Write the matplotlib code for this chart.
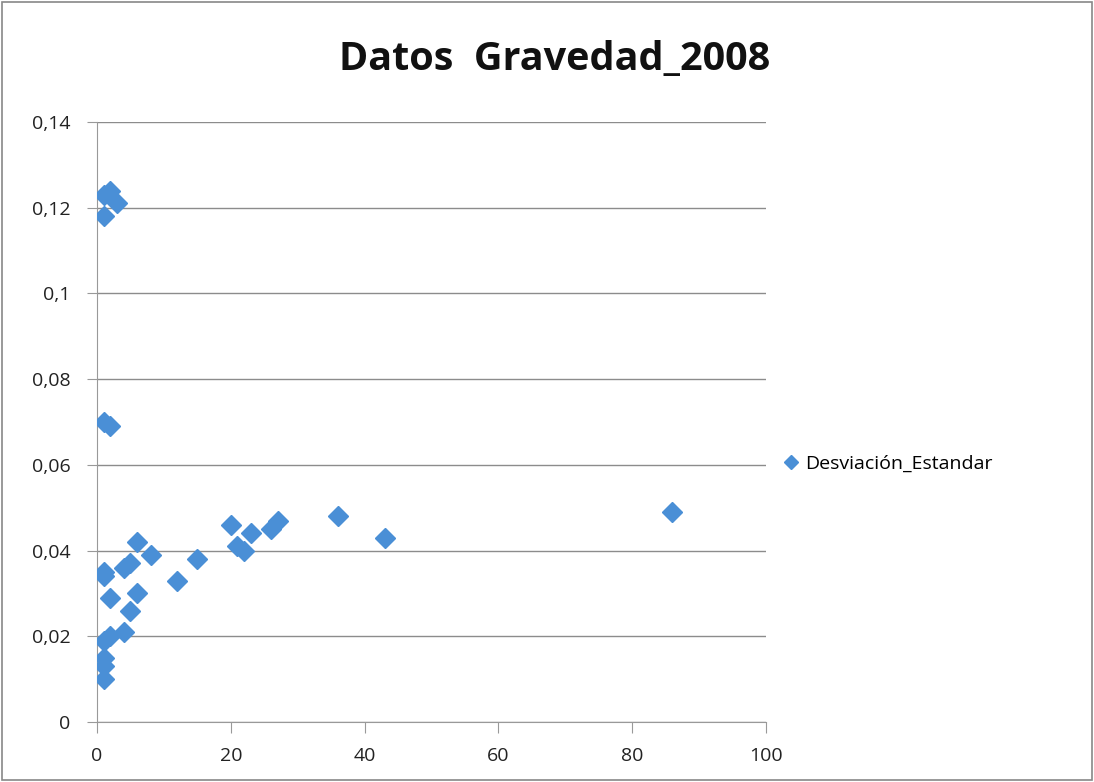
import matplotlib
matplotlib.use("Agg")
import matplotlib.pyplot as plt
from matplotlib.patches import Rectangle
from matplotlib.ticker import FuncFormatter

x_vals = [1, 2, 3, 1, 1, 2, 86, 36, 43, 20, 21, 22, 23, 26, 27, 15, 6, 8, 5, 4,
          1, 1, 12, 2, 6, 5, 4, 2, 1, 1, 1, 1]
y_vals = [0.123, 0.124, 0.121, 0.118, 0.070, 0.069, 0.049, 0.048, 0.043, 0.046,
          0.041, 0.040, 0.044, 0.045, 0.047, 0.038, 0.042, 0.039, 0.037, 0.036,
          0.035, 0.034, 0.033, 0.029, 0.030, 0.026, 0.021, 0.020, 0.019, 0.015,
          0.013, 0.010]
series_name = "Desviación_Estandar"
title = "Datos  Gravedad_2008"
x_ticks = [0, 20, 40, 60, 80, 100]
y_ticks = [0, 0.02, 0.04, 0.06, 0.08, 0.1, 0.12, 0.14]

plt.rcParams['font.family'] = ['Open Sans', 'DejaVu Sans']
fig = plt.figure(figsize=(10.94, 7.82), dpi=100)
ax = fig.add_axes([97/1094, 1 - 722/782, (766-97)/1094, (722-122)/782])

color = '#4A8FD6'
ax.plot(x_vals, y_vals, linestyle='none', marker='D', markersize=10,
        color=color, markeredgecolor=color, label=series_name, zorder=3)

ax.set_xlim(0, 100)
ax.set_ylim(0, 0.14)
ax.set_xticks(x_ticks)
ax.set_yticks(y_ticks)

def fmt(v, pos):
    s = f"{v:.2f}".rstrip('0').rstrip('.')
    return s.replace('.', ',')
ax.yaxis.set_major_formatter(FuncFormatter(fmt))
ax.xaxis.set_major_formatter(FuncFormatter(lambda v, p: f"{int(v)}"))

ax.grid(axis='y', color='#8c8c8c', linewidth=1)
ax.set_axisbelow(True)
for s in ['top', 'right']:
    ax.spines[s].set_visible(False)
for s in ['left', 'bottom']:
    ax.spines[s].set_color('#999999')
ax.tick_params(axis='both', colors='#999999', labelcolor='#222222',
               labelsize=14, direction='out')
ax.tick_params(axis='x', length=8, pad=10)
ax.tick_params(axis='y', length=7, pad=12)

fig.text(555/1094, 1 - 60/782, title, ha='center', va='center',
         fontsize=28.5, fontweight='bold', color='#111111')

ax.legend(loc='center left', bbox_to_anchor=(1.0, 0.43), frameon=False,
          fontsize=14, handletextpad=0.2, markerscale=0.7, handlelength=1.0,
          borderaxespad=0.4)

fig.patches.append(Rectangle((0.002, 0.002), 0.996, 0.996, transform=fig.transFigure,
                             fill=False, edgecolor='#888888', linewidth=1.2))

fig.savefig('out.png', dpi=100)
